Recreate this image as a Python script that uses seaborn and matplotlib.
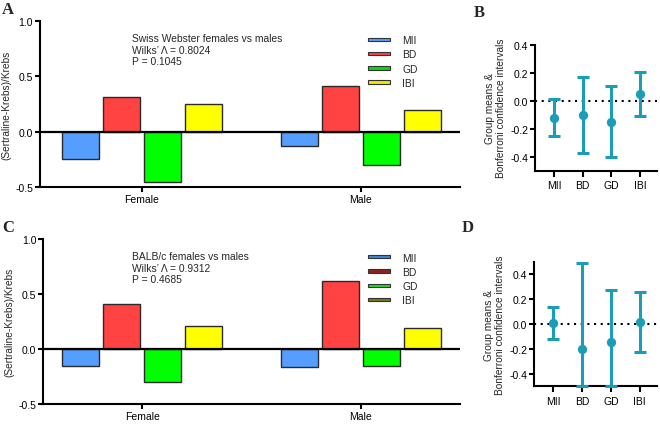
import numpy as np
import pandas as pd
import matplotlib
matplotlib.use("Agg")
import matplotlib.pyplot as plt
import seaborn as sns
from matplotlib.patches import Patch

# ---------------- data ----------------
groups = ["Female", "Male"]
measures = ["MII", "BD", "GD", "IBI"]

sw_female = [-0.25, 0.31, -0.457, 0.246]
sw_male = [-0.13, 0.414, -0.30, 0.198]
balb_female = [-0.15, 0.41, -0.30, 0.205]
balb_male = [-0.16, 0.615, -0.15, 0.19]

sw_text = ["Swiss Webster females vs males", "Wilks\u2019 \u039b = 0.8024", "P = 0.1045"]
balb_text = ["BALB/c females vs males", "Wilks\u2019 \u039b = 0.9312", "P = 0.4685"]

b_mean = [-0.12, -0.10, -0.153, 0.049]
b_low = [-0.25, -0.375, -0.405, -0.107]
b_high = [0.012, 0.17, 0.105, 0.207]

d_mean = [0.008, -0.20, -0.144, 0.013]
d_low = [-0.12, -0.50, -0.50, -0.227]
d_high = [0.138, 0.488, 0.27, 0.253]

bar_colors = ["#559eff", "#ff4242", "#00ff00", "#ffff00"]
legend_a_colors = ["#559eff", "#ff4242", "#00e000", "#f0e800"]
legend_c_colors = ["#3f86e0", "#8a2222", "#22dd22", "#7c7c14"]
teal = "#1b9db8"

# ---------------- style ----------------
sns.set_theme(style="white")
plt.rcParams["font.family"] = ["Liberation Sans", "DejaVu Sans"]
plt.rcParams["axes.linewidth"] = 1.5
plt.rcParams["xtick.major.width"] = 1.5
plt.rcParams["ytick.major.width"] = 1.5
plt.rcParams["xtick.major.size"] = 3.5
plt.rcParams["ytick.major.size"] = 3.5
plt.rcParams["xtick.direction"] = "out"
plt.rcParams["ytick.direction"] = "out"
plt.rcParams["xtick.bottom"] = True
plt.rcParams["ytick.left"] = True

W, H = 660, 427
fig = plt.figure(figsize=(6.6, 4.27), dpi=100)


def ax_px(l, r, t, b):
    return fig.add_axes([l / W, 1 - b / H, (r - l) / W, (b - t) / H])


def bar_panel(ax, fvals, mvals, texts, leg_colors, xlim, text_y, leg_y):
    df = pd.DataFrame({
        "sex": [g for g in groups for _ in measures],
        "measure": measures * 2,
        "value": list(fvals) + list(mvals),
    })
    sns.barplot(data=df, x="sex", y="value", hue="measure", order=groups,
                hue_order=measures, palette=bar_colors, width=0.75, gap=0.1,
                edgecolor="#2a2a2a", linewidth=1.0, saturation=1, legend=False,
                ax=ax)
    ax.axhline(0, color="black", lw=1.6, zorder=5)
    ax.set_xlim(*xlim)
    ax.set_ylim(-0.5, 1.0)
    ax.set_yticks([-0.5, 0.0, 0.5, 1.0])
    ax.set_yticklabels(["-0.5", "0.0", "0.5", "1.0"])
    ax.tick_params(labelsize=7.5, pad=1.5, colors="black")
    ax.set_xlabel("")
    ax.set_ylabel("(Sertraline-Krebs)/Krebs", fontsize=7.3, labelpad=3)
    for s in ["top", "right"]:
        ax.spines[s].set_visible(False)
    for s in ["left", "bottom"]:
        ax.spines[s].set_color("black")
    ax.text(132 / W, text_y, "\n".join(texts), transform=fig.transFigure,
            fontsize=7.4, va="top", ha="left", linespacing=1.2)
    handles = [Patch(facecolor=c, edgecolor="#333333", linewidth=0.8) for c in leg_colors]
    ax.legend(handles, measures, loc="upper left",
              bbox_to_anchor=(368 / W, leg_y), bbox_transform=fig.transFigure,
              frameon=False, fontsize=7.4, handlelength=2.1, handleheight=0.14,
              handletextpad=1.25, labelspacing=0.42, borderaxespad=0, borderpad=0)


def ci_panel(ax, means, lows, highs, ylim, yticks, xlim):
    x = np.arange(len(measures))
    means = np.array(means)
    yerr = np.vstack([means - np.array(lows), np.array(highs) - means])
    ax.axhline(0, color="black", lw=1.5, ls=(0, (1, 2.2)), zorder=1)
    ax.errorbar(x, means, yerr=yerr, fmt="none", ecolor=teal, elinewidth=2.2,
                capsize=4.2, capthick=2.2, zorder=3, clip_on=False)
    sns.scatterplot(x=x, y=means, color=teal, s=45, edgecolor=teal,
                    linewidth=0, zorder=4, ax=ax, clip_on=False)
    ax.set_xticks(x)
    ax.set_xticklabels(measures)
    ax.set_xlim(*xlim)
    ax.set_ylim(*ylim)
    ax.set_yticks(yticks)
    ax.set_yticklabels([f"{v:.1f}" for v in yticks])
    ax.tick_params(labelsize=7.5, pad=1.5, colors="black")
    ax.tick_params(axis="x", length=4, pad=3)
    ax.set_ylabel("Group means &\nBonferroni confidence intervals", fontsize=7.3,
                  labelpad=3, linespacing=1.1)
    for s in ["top", "right"]:
        ax.spines[s].set_visible(False)
    for s in ["left", "bottom"]:
        ax.spines[s].set_color("black")


axA = ax_px(40, 460, 22, 188)
bar_panel(axA, sw_female, sw_male, sw_text, legend_a_colors, (-0.466, 1.454),
          1 - 34 / H, 1 - 36 / H)

axC = ax_px(43.3, 460, 240, 405)
bar_panel(axC, balb_female, balb_male, balb_text, legend_c_colors, (-0.452, 1.454),
          1 - 252 / H, 1 - 253.5 / H)

axB = ax_px(535, 657, 45.7, 171.7)
ci_panel(axB, b_mean, b_low, b_high, (-0.5, 0.4), [-0.4, -0.2, 0.0, 0.2, 0.4],
         (-0.663, 3.59))

axD = ax_px(534.3, 657, 262.7, 387.3)
ci_panel(axD, d_mean, d_low, d_high, (-0.5, 0.5), [-0.4, -0.2, 0.0, 0.2, 0.4],
         (-0.662, 3.6))

letter_kw = dict(fontsize=12, fontweight="bold", family=["Liberation Serif", "DejaVu Serif"],
                 va="top", ha="left")
fig.text(2 / W, 1 - 2 / H, "A", **letter_kw)
fig.text(474 / W, 1 - 5 / H, "B", **letter_kw)
fig.text(2 / W, 1 - 220 / H, "C", **letter_kw)
fig.text(462 / W, 1 - 220 / H, "D", **letter_kw)

fig.savefig("out.png", dpi=100)
